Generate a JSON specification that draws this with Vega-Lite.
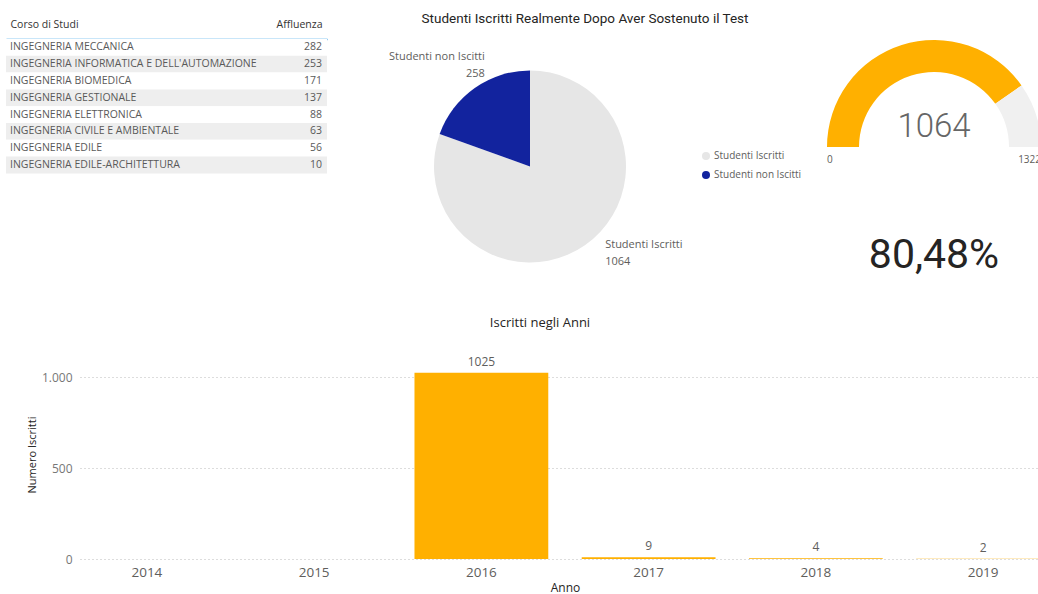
{
  "$schema": "https://vega.github.io/schema/vega-lite/v6.json",
  "background": "white",
  "padding": {"left": 6, "top": 11, "right": 0, "bottom": 0},
  "config": {
    "view": {"stroke": null},
    "font": "Open Sans",
    "locale": {"number": {"decimal": ",", "thousands": ".", "grouping": [3], "currency": ["€", ""]}}
  },
  "datasets": {
    "corsi": [
      {"Corso": "INGEGNERIA MECCANICA", "Affluenza": 282},
      {"Corso": "INGEGNERIA INFORMATICA E DELL'AUTOMAZIONE", "Affluenza": 253},
      {"Corso": "INGEGNERIA BIOMEDICA", "Affluenza": 171},
      {"Corso": "INGEGNERIA GESTIONALE", "Affluenza": 137},
      {"Corso": "INGEGNERIA ELETTRONICA", "Affluenza": 88},
      {"Corso": "INGEGNERIA CIVILE E AMBIENTALE", "Affluenza": 63},
      {"Corso": "INGEGNERIA EDILE", "Affluenza": 56},
      {"Corso": "INGEGNERIA EDILE-ARCHITETTURA", "Affluenza": 10}
    ],
    "pie": [
      {"Stato": "Studenti Iscritti", "Studenti": 1064},
      {"Stato": "Studenti non Iscitti", "Studenti": 258}
    ],
    "gauge": [
      {"parte": "Iscritti", "valore": 1064},
      {"parte": "Non iscritti", "valore": 258}
    ],
    "gaugeLimiti": [
      {"valore": 0},
      {"valore": 1322}
    ],
    "percentuale": [
      {"quota": 0.8048}
    ],
    "anni": [
      {"Anno": "2014", "Iscritti": null},
      {"Anno": "2015", "Iscritti": null},
      {"Anno": "2016", "Iscritti": 1025},
      {"Anno": "2017", "Iscritti": 9},
      {"Anno": "2018", "Iscritti": 4},
      {"Anno": "2019", "Iscritti": 2}
    ]
  },
  "concat": [
    {
      "hconcat": [
        {
          "width": 247,
          "height": 134.4,
          "data": {"name": "corsi"},
          "transform": [
            {"window": [{"op": "row_number", "as": "riga"}], "sort": [{"field": "Affluenza", "order": "descending"}]}
          ],
          "encoding": {
            "y": {"field": "Corso", "type": "nominal", "sort": {"field": "Affluenza", "op": "sum", "order": "descending"}, "scale": {"paddingInner": 0, "paddingOuter": 0}, "axis": null}
          },
          "layer": [
            {
              "mark": {"type": "rect"},
              "encoding": {
                "x": {"datum": 0, "type": "quantitative", "scale": {"domain": [0, 1], "range": [-74, 247], "nice": false, "zero": false},
                  "axis": {"orient": "top", "values": [0, 1], "title": null, "grid": false, "ticks": false,
                    "labelExpr": "datum.value == 0 ? 'Corso di Studi' : 'Affluenza'",
                    "labelFlush": true,
                    "labelAlign": {"condition": {"test": "datum.value == 0", "value": "left"}, "value": "right"},
                    "labelOffset": {"condition": {"test": "datum.value == 0", "value": 4}, "value": -5},
                    "labelPadding": 10, "labelFontSize": 10.5, "labelColor": "#333333",
                    "domainColor": "#2A9AE6", "domainWidth": 1.5}},
                "x2": {"datum": 1},
                "fill": {"condition": {"test": "datum.riga % 2 == 0", "value": "#EEEEEE"}, "value": "#FFFFFF"}
              }
            },
            {
              "mark": {"type": "text", "align": "left", "baseline": "middle", "dx": 4, "fontSize": 10.5, "color": "#595959"},
              "encoding": {
                "x": {"datum": 0, "type": "quantitative"},
                "text": {"field": "Corso", "type": "nominal"}
              }
            },
            {
              "mark": {"type": "text", "align": "right", "baseline": "middle", "dx": -5, "fontSize": 10.5, "color": "#595959"},
              "encoding": {
                "x": {"datum": 1, "type": "quantitative"},
                "text": {"field": "Affluenza", "type": "quantitative", "format": "d"}
              }
            }
          ]
        },
        {
          "width": 386,
          "height": 255,
          "title": {"text": "Studenti Iscritti Realmente Dopo Aver Sostenuto il Test", "font": "Roboto", "fontSize": 13.5, "fontWeight": "normal", "color": "#252423", "anchor": "middle", "frame": "group", "dx": 55, "offset": 14},
          "data": {"name": "pie"},
          "layer": [
            {
              "mark": {"type": "arc", "outerRadius": 96},
              "encoding": {
                "theta": {"field": "Studenti", "type": "quantitative", "stack": true},
                "color": {"field": "Stato", "type": "nominal",
                  "scale": {"domain": ["Studenti Iscritti", "Studenti non Iscitti"], "range": ["#E6E6E6", "#12239E"]},
                  "legend": {"orient": "none", "legendX": 364, "legendY": 112, "title": null, "symbolType": "circle", "symbolSize": 64, "symbolStrokeWidth": 0, "labelFontSize": 10, "labelColor": "#605E5C", "rowPadding": 9, "labelOffset": 3}}
              }
            },
            {
              "mark": {"type": "text", "radius": 115, "dy": -15.5, "fontSize": 11, "color": "#605E5C", "baseline": "middle", "lineHeight": 17,
                "align": {"expr": "datum.Stato == 'Studenti Iscritti' ? 'left' : 'right'"},
                "dx": {"expr": "datum.Stato == 'Studenti Iscritti' ? 9 : 21"},
                "text": {"expr": "[datum.Stato, format(datum.Studenti, 'd')]"}},
              "encoding": {
                "theta": {"field": "Studenti", "type": "quantitative", "stack": true},
                "detail": {"field": "Stato", "type": "nominal"}
              }
            }
          ]
        },
        {
          "width": 402,
          "height": 216,
          "layer": [
            {
              "data": {"name": "gauge"},
              "mark": {"type": "arc", "outerRadius": 107, "innerRadius": 75},
              "encoding": {
                "theta": {"field": "valore", "type": "quantitative", "stack": true, "scale": {"range": [-1.5708, 1.5708], "nice": false}},
                "color": {"field": "parte", "type": "nominal", "scale": {"domain": ["Iscritti", "Non iscritti"], "range": ["#FFB000", "#F0F0F0"]}, "legend": null}
              }
            },
            {
              "data": {"name": "gauge"},
              "transform": [{"filter": "datum.parte == 'Iscritti'"}],
              "mark": {"type": "text", "dy": -20, "font": "Roboto", "fontWeight": 300, "fontSize": 33, "color": "#666666", "baseline": "middle"},
              "encoding": {"text": {"field": "valore", "type": "quantitative", "format": "d"}}
            },
            {
              "data": {"name": "gaugeLimiti"},
              "mark": {"type": "text", "radius": 107, "baseline": "top", "dy": 8, "fontSize": 10, "color": "#605E5C",
                "align": {"expr": "datum.valore == 0 ? 'left' : 'right'"}},
              "encoding": {
                "theta": {"field": "valore", "type": "quantitative", "stack": null},
                "text": {"field": "valore", "type": "quantitative", "format": "d"}
              }
            },
            {
              "data": {"name": "percentuale"},
              "mark": {"type": "text", "dy": 109, "font": "Roboto", "fontSize": 41, "color": "#252423", "baseline": "middle"},
              "encoding": {"text": {"field": "quota", "type": "quantitative", "format": ".2%"}}
            }
          ]
        }
      ],
      "spacing": 10,
      "bounds": "flush",
      "resolve": {"scale": {"color": "independent", "theta": "independent"}, "legend": {"color": "independent"}}
    },
    {
      "width": 970,
      "height": 209,
      "title": {"text": "Iscritti negli Anni", "fontSize": 13, "fontWeight": "normal", "color": "#252423", "anchor": "middle", "offset": 20, "dx": -25},
      "data": {"name": "anni"},
      "encoding": {
        "x": {"field": "Anno", "type": "ordinal", "scale": {"domain": ["2014", "2015", "2016", "2017", "2018", "2019"], "paddingInner": 0.2, "paddingOuter": 0},
          "axis": {"title": "Anno", "labelAngle": 0, "domain": false, "ticks": false, "labelPadding": 6, "labelFontSize": 13.5, "labelColor": "#605E5C", "titleFontSize": 12, "titleFontWeight": "normal", "titleColor": "#252423", "titlePadding": 4}},
        "y": {"field": "Iscritti", "type": "quantitative", "scale": {"domain": [0, 1150], "nice": false},
          "axis": {"values": [0, 500, 1000], "format": ",d", "domain": false, "ticks": false, "labelPadding": 8, "labelFontSize": 12, "labelColor": "#777777",
            "grid": true, "gridDash": [1, 3], "gridColor": "#BBBBBB", "gridWidth": 1,
            "title": "Numero Iscritti", "titleFontSize": 11, "titleFontWeight": "normal", "titleColor": "#252423", "titleX": -43, "minExtent": 74}}
      },
      "layer": [
        {"mark": {"type": "bar", "color": "#FFB000"}},
        {
          "mark": {"type": "text", "baseline": "bottom", "dy": -4, "fontSize": 12, "color": "#605E5C"},
          "encoding": {"text": {"field": "Iscritti", "type": "quantitative", "format": "d"}}
        }
      ]
    }
  ],
  "columns": 1,
  "align": "none",
  "spacing": 23
}
